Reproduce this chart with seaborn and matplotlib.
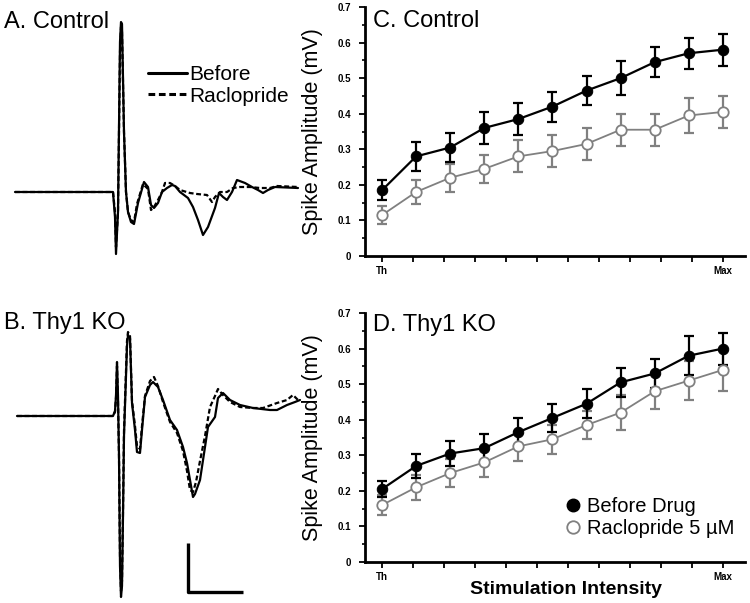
import numpy as np
import pandas as pd
import matplotlib
matplotlib.use("Agg")
import matplotlib.pyplot as plt
from matplotlib.lines import Line2D
import seaborn as sns

# ---------------- data ----------------
steps = list(range(11))  # Th ... Max

c_before = [0.185, 0.28, 0.305, 0.36, 0.385, 0.42, 0.465, 0.50, 0.545, 0.57, 0.58]
c_before_err = [0.028, 0.04, 0.04, 0.045, 0.045, 0.042, 0.04, 0.047, 0.043, 0.043, 0.045]
c_raclo = [0.115, 0.18, 0.22, 0.245, 0.28, 0.295, 0.315, 0.355, 0.355, 0.395, 0.405]
c_raclo_err = [0.025, 0.035, 0.04, 0.04, 0.045, 0.045, 0.045, 0.045, 0.045, 0.048, 0.045]

d_before = [0.205, 0.27, 0.305, 0.32, 0.365, 0.405, 0.445, 0.505, 0.53, 0.58, 0.60]
d_before_err = [0.022, 0.033, 0.035, 0.04, 0.04, 0.04, 0.04, 0.04, 0.04, 0.055, 0.045]
d_raclo = [0.16, 0.21, 0.25, 0.28, 0.325, 0.345, 0.385, 0.42, 0.48, 0.51, 0.54]
d_raclo_err = [0.028, 0.035, 0.04, 0.04, 0.04, 0.04, 0.04, 0.05, 0.05, 0.055, 0.06]

y_ticks = [0, 0.1, 0.2, 0.3, 0.4, 0.5, 0.6, 0.7]
y_tick_labels = ["0", "0.1", "0.2", "0.3", "0.4", "0.5", "0.6", "0.7"]

# example traces (time, amplitude; arbitrary units)
a_t_before = [15, 113, 115, 116, 118, 120, 121, 122, 124, 126, 128, 131, 134, 138, 144, 148, 151, 154,
              158, 162, 167, 172, 175, 180, 188, 193, 198, 203, 208, 215, 219, 223, 227, 232, 237, 245,
              252, 258, 263, 268, 275, 298]
a_v_before = [0, 0, -25, -62, -20, 150, 170, 168, 60, 0, -20, -30, -32, -11, 10, 5, -13, -16,
              -11, 0, 4, 7, 6, 0, -6, -15, -28, -43, -35, -16, -1, -5, -8, 0, 12, 9,
              5, 2, -1, 2, 5, 4]
a_t_raclo = [15, 113, 115, 116, 118, 120, 121, 122, 124, 126, 128, 131, 134, 137, 143, 148, 151, 154,
             158, 162, 165, 170, 175, 180, 190, 197, 207, 212, 215, 220, 227, 233, 240, 250, 260, 270,
             277, 298]
a_v_raclo = [0, 0, -20, -55, -20, 140, 165, 160, 60, 0, -20, -28, -30, -12, 8, 3, -18, -15,
             -8, 0, 9, 9, 6, 2, -1, -2, -3, -10, -5, 0, 0, 4, 5, 5, 4, 4,
             6, 5]

b_t_before = [17, 113, 115, 116, 117, 118, 119, 120, 121, 122, 123, 124, 126, 127, 128, 130, 132, 135,
              137, 140, 142, 145, 150, 153, 158, 163, 170, 177, 183, 187, 190, 193, 195, 200, 205, 208,
              215, 218, 223, 230, 240, 253, 270, 277, 287, 295, 300]
b_v_before = [0, 0, 5, 20, 54, 20, -40, -150, -181, -170, -100, -20, 40, 70, 81, 78, 13, -14,
              -36, -37, -14, 19, 31, 34, 29, 16, -4, -14, -31, -47, -64, -81, -78, -64, -31, -11,
              -1, 18, 23, 16, 11, 8, 6, 6, 11, 14, 16]
b_t_raclo = [17, 113, 115, 116, 117, 118, 119, 120, 121, 122, 123, 124, 126, 127, 128, 130, 132, 135,
             137, 140, 142, 145, 150, 154, 158, 163, 170, 177, 183, 187, 190, 193, 196, 200, 205, 210,
             215, 218, 223, 230, 240, 253, 263, 277, 287, 293, 298]
b_v_raclo = [0, 0, 4, 18, 50, 15, -40, -140, -175, -165, -95, -15, 45, 75, 84, 80, 15, -10,
             -30, -33, -10, 20, 35, 39, 30, 14, -6, -17, -35, -55, -74, -76, -66, -45, -20, 9,
             20, 27, 21, 14, 9, 8, 8, 13, 16, 21, 16]

# ---------------- style ----------------
sns.set_style("white")
plt.rcParams["font.family"] = ["Liberation Sans", "DejaVu Sans"]
plt.rcParams["text.color"] = "black"
plt.rcParams["axes.labelcolor"] = "black"
plt.rcParams["xtick.color"] = "black"
plt.rcParams["ytick.color"] = "black"

fig = plt.figure(figsize=(7.5, 6.03), dpi=100)
W, H = 750.0, 603.0


def px_axes(l, t, r, b):
    return fig.add_axes([l / W, 1 - b / H, (r - l) / W, (b - t) / H])


GRAY = "#808080"

# ---------------- traces ----------------
axA = px_axes(0, 0, 310, 265)
axA.set_xlim(0, 310)
axA.set_ylim(-73, 192)
sns.lineplot(x=a_t_raclo, y=a_v_raclo, ax=axA, color="black", lw=1.6, ls=(0, (2.2, 1.2)),
             sort=False, estimator=None)
sns.lineplot(x=a_t_before, y=a_v_before, ax=axA, color="black", lw=1.6, sort=False, estimator=None)
axA.axis("off")
hA = [Line2D([], [], color="black", lw=2.2), Line2D([], [], color="black", lw=2.2, ls=(0, (2.2, 1.2)))]
axA.legend(hA, ["Before", "Raclopride"], loc="upper left", bbox_to_anchor=(148 / 310, (265 - 65) / 265),
           frameon=False, fontsize=15, handlelength=1.85, handletextpad=0.12, labelspacing=0.12,
           borderpad=0, borderaxespad=0)

axB = px_axes(0, 270, 310, 603)
axB.set_xlim(0, 310)
axB.set_ylim(-187, 146)
sns.lineplot(x=b_t_raclo, y=b_v_raclo, ax=axB, color="black", lw=1.6, ls=(0, (2.2, 1.2)),
             sort=False, estimator=None)
sns.lineplot(x=b_t_before, y=b_v_before, ax=axB, color="black", lw=1.6, sort=False, estimator=None)
# scale bar
axB.plot([188, 188, 243], [-127, -176, -176], color="black", lw=2.4, solid_capstyle="butt")
axB.axis("off")

fig.text(4 / W, 1 - 28 / H, "A. Control", fontsize=17, ha="left", va="baseline")
fig.text(4 / W, 1 - 329 / H, "B. Thy1 KO", fontsize=17, ha="left", va="baseline")


# ---------------- line plots ----------------
def panel(ax, before, berr, raclo, rerr, show_xlabel, show_legend):
    df = pd.DataFrame({
        "step": steps * 2,
        "amp": before + raclo,
        "cond": ["Before Drug"] * len(steps) + ["Raclopride 5 \u00b5M"] * len(steps),
    })
    ax.errorbar(steps, raclo, yerr=rerr, fmt="none", ecolor=GRAY, elinewidth=1.6, capsize=3.5,
                capthick=1.6, zorder=2)
    ax.errorbar(steps, before, yerr=berr, fmt="none", ecolor="black", elinewidth=1.6, capsize=3.5,
                capthick=1.6, zorder=3)
    sns.lineplot(data=df[df.cond == "Raclopride 5 \u00b5M"], x="step", y="amp", ax=ax, color=GRAY,
                 lw=1.3, marker="o", markersize=7.5, markerfacecolor="white", markeredgecolor=GRAY,
                 markeredgewidth=1.3, zorder=4, legend=False)
    sns.lineplot(data=df[df.cond == "Before Drug"], x="step", y="amp", ax=ax, color="black",
                 lw=1.6, marker="o", markersize=7.5, markerfacecolor="black", markeredgecolor="black",
                 zorder=5, legend=False)
    ax.set_xlim(-0.5, 10.65)
    ax.set_ylim(0, 0.7)
    ax.set_yticks(y_ticks)
    ax.set_yticklabels(y_tick_labels, fontsize=7, fontweight="bold")
    ax.set_yticks(np.arange(0.05, 0.7, 0.1), minor=True)
    xt = np.linspace(0, 10, 12)
    ax.set_xticks(xt)
    ax.set_xticklabels(["Th"] + [""] * 10 + ["Max"], fontsize=7, fontweight="bold")
    ax.tick_params(axis="both", which="major", direction="out", length=4, width=1.3, color="black",
                   left=True, bottom=True, pad=3)
    ax.tick_params(axis="y", which="major", pad=6)
    ax.tick_params(axis="y", which="minor", direction="out", length=2.5, width=1.2, left=True)
    for s in ["top", "right"]:
        ax.spines[s].set_visible(False)
    for s in ["left", "bottom"]:
        ax.spines[s].set_linewidth(2.0)
        ax.spines[s].set_color("black")
    ax.set_ylabel("Spike Amplitude (mV)", fontsize=15.5)
    ax.yaxis.set_label_coords(-0.11, 0.5)
    if show_xlabel:
        ax.set_xlabel("Stimulation Intensity", fontsize=14, fontweight="bold")
        ax.xaxis.set_label_coords(0.53, -0.075)
    else:
        ax.set_xlabel("")
    ax.grid(False)
    if show_legend:
        h = [Line2D([], [], ls="none", marker="o", markersize=9, markerfacecolor="black",
                    markeredgecolor="black"),
             Line2D([], [], ls="none", marker="o", markersize=9, markerfacecolor="white",
                    markeredgecolor=GRAY, markeredgewidth=1.3)]
        ax.legend(h, ["Before Drug", "Raclopride 5 \u00b5M"], loc="upper left",
                  bbox_to_anchor=((565 - 365) / 380, (562 - 497) / 249), frameon=False, fontsize=14.5,
                  handlelength=0.8, handletextpad=0.3, labelspacing=0.15, borderpad=0, borderaxespad=0)


axC = px_axes(365, 7, 745, 256)
panel(axC, c_before, c_before_err, c_raclo, c_raclo_err, False, False)
axD = px_axes(365, 313, 745, 562)
panel(axD, d_before, d_before_err, d_raclo, d_raclo_err, True, True)

fig.text(373 / W, 1 - 27 / H, "C. Control", fontsize=17, ha="left", va="baseline")
fig.text(373 / W, 1 - 331 / H, "D. Thy1 KO", fontsize=17, ha="left", va="baseline")

fig.savefig("out.png", dpi=100)
